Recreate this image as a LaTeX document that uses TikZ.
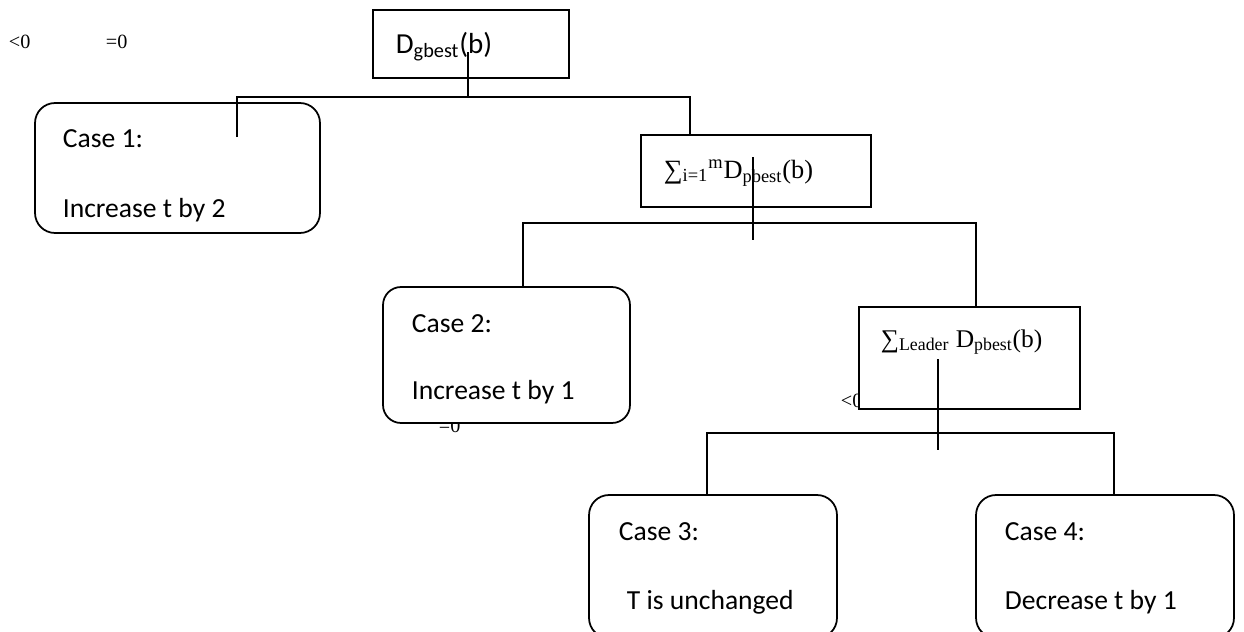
\documentclass[tikz,border=0pt]{standalone}
\usepackage{fontspec}
\setmainfont{Carlito}
\newfontfamily\tnr{Liberation Serif}
\usepackage{tikz}

\tikzset{
  casebox/.style={draw, fill=white, rounded corners=0.4cm, inner sep=0pt, outer sep=0pt},
  sqbox/.style={draw, fill=white, inner sep=0pt, outer sep=0pt},
  txt/.style={anchor=base west, inner sep=0pt, font=\fontsize{15.7}{19}\selectfont},
  mtxt/.style={anchor=base west, inner sep=0pt, font=\tnr\fontsize{15}{18}\selectfont},
  stray/.style={anchor=base west, inner sep=0pt, font=\tnr\fontsize{11.5}{14}\selectfont}
}

\begin{document}
\begin{tikzpicture}[x=0.02cm, y=-0.02cm, line width=1pt]
  \useasboundingbox (0,0) rectangle (1244,632);
  \clip (0,0) rectangle (1244,632);
  % stray labels, partly hidden by the boxes
  \node[stray] (lt) at (8,49) {<0};
  \node[stray] (eq) at (105,49) {=0};
  \node[stray] (lt2) at (840,407) {<0};
  \node[stray] (eq2) at (438,432) {=0};
  % boxes
  \node[sqbox, minimum width=3.92cm, minimum height=1.36cm] (gbest) at (471,44) {};
  \node[casebox, minimum width=5.7cm, minimum height=2.6cm] (case1) at (177.5,168) {};
  \node[sqbox, minimum width=4.6cm, minimum height=1.44cm] (sum) at (756,171) {};
  \node[casebox, minimum width=4.94cm, minimum height=2.72cm, rounded corners=0.36cm] (case2) at (506.5,355) {};
  \node[sqbox, minimum width=4.42cm, minimum height=2.04cm] (leader) at (969.5,358) {};
  \node[casebox, minimum width=4.96cm, minimum height=2.86cm] (case3) at (713,566.5) {};
  \node[casebox, minimum width=5.16cm, minimum height=2.86cm] (case4) at (1105,566.5) {};
  % texts
  \node[txt, font=\fontsize{16.5}{20}\selectfont] (gbest-t) at (395,53) {D\textsubscript{gbest}(b)};
  \node[mtxt] (sum-t) at (663,178) {∑\textsubscript{i=1}\textsuperscript{m}D\textsubscript{pbest}(b)};
  \node[mtxt, font=\tnr\fontsize{14.5}{18}\selectfont] (leader-t) at (880,347) {∑\textsubscript{Leader} D\textsubscript{pbest}(b)};
  \node[txt] (c1a) at (62,147) {Case 1:};
  \node[txt] (c1b) at (62,217) {Increase t by 2};
  \node[txt] (c2a) at (411,332) {Case 2:};
  \node[txt] (c2b) at (411,399) {Increase t by 1};
  \node[txt] (c3a) at (618,540) {Case 3:};
  \node[txt] (c3b) at (626,609) {T is unchanged};
  \node[txt] (c4a) at (1004,540) {Case 4:};
  \node[txt] (c4b) at (1004,609) {Decrease t by 1};
  % first split
  \coordinate (g-stub) at (468,52);
  \coordinate (j1) at (468,97);
  \coordinate (c1-end) at (237,137);
  \draw (g-stub) -- (j1);
  \draw (c1-end) |- (j1) -| ([xshift=0.98cm]sum.north west);
  % second split
  \coordinate (s-stub) at (753,157);
  \coordinate (s-end) at (753,240);
  \coordinate (j2) at (753,223);
  \draw (s-stub) -- (s-end);
  \draw ([xshift=2.8cm]case2.north west) |- (j2) -| ([xshift=2.34cm]leader.north west);
  % third split
  \coordinate (l-stub) at (938,359);
  \coordinate (l-end) at (938,450);
  \coordinate (j3) at (938,433);
  \draw (l-stub) -- (l-end);
  \draw ([xshift=2.36cm]case3.north west) |- (j3) -| ([xshift=2.76cm]case4.north west);
\end{tikzpicture}
\end{document}
